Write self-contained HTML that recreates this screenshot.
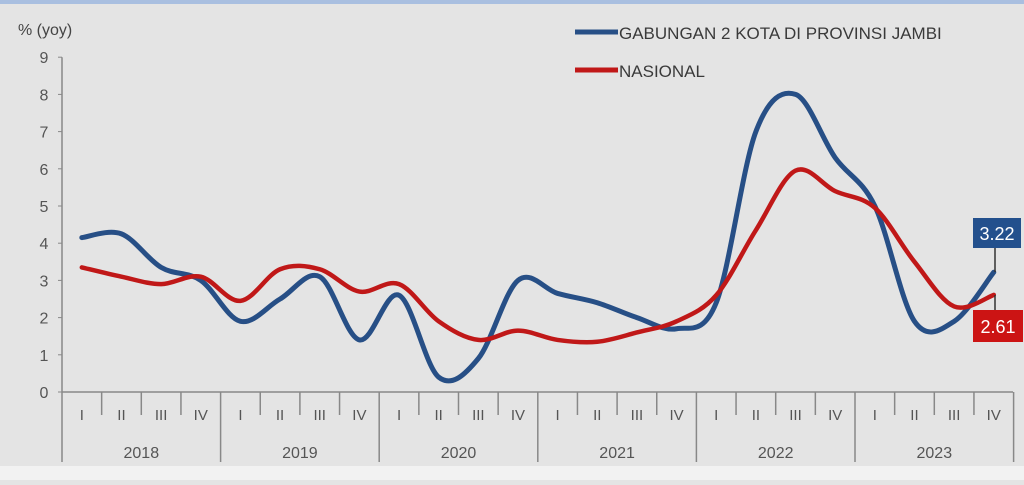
<!DOCTYPE html>
<html><head><style>
body{margin:0;width:1024px;height:480px;overflow:hidden;background:#e4e4e4;font-family:"Liberation Sans",sans-serif}
</style></head><body>
<svg id="s" width="1024" height="480" xmlns="http://www.w3.org/2000/svg">
<rect width="1024" height="480" fill="#e4e4e4"/>
<rect width="1024" height="4" fill="#a9bfe0"/>
<rect y="466" width="1024" height="14" fill="#f2f2f2"/>
<text x="18" y="35" font-size="16" fill="#444">% (yoy)</text>
<g id="g"></g>
<line x1="575" y1="32" x2="618" y2="32" stroke="#274f86" stroke-width="5"/>
<text x="619" y="39" font-size="17" fill="#3a3a3a">GABUNGAN 2 KOTA DI PROVINSI JAMBI</text>
<line x1="575" y1="70" x2="618" y2="70" stroke="#c01818" stroke-width="5"/>
<text x="619" y="77" font-size="17" fill="#3a3a3a">NASIONAL</text>
<line x1="995" y1="245" x2="995" y2="272" stroke="#333" stroke-width="1.5"/>
<rect x="973" y="218" width="48" height="30" fill="#23508d"/>
<text x="997" y="240" font-size="18" fill="#fff" text-anchor="middle">3.22</text>
<line x1="995" y1="295" x2="995" y2="312" stroke="#333" stroke-width="1.5"/>
<rect x="973" y="310" width="50" height="32" fill="#cc1414"/>
<text x="998" y="333" font-size="18" fill="#fff" text-anchor="middle">2.61</text>
</svg>
<script>
var g=document.getElementById('g'),h='';
var y0=392,u=37.2,x0=62,w=39.65;
function Y(v){return y0-v*u}function X(i){return x0+w*(i+0.5)}
for(var v=0;v<=9;v++){h+='<text x="44" y="'+(Y(v)+6)+'" font-size="16" fill="#555" text-anchor="middle">'+v+'</text><line x1="58" x2="62" y1="'+Y(v)+'" y2="'+Y(v)+'" stroke="#888"/>';}
h+='<line x1="62" y1="'+Y(9)+'" x2="62" y2="462" stroke="#888" stroke-width="1.5"/>';
h+='<line x1="62" y1="392" x2="1013" y2="392" stroke="#888" stroke-width="1.5"/>';
var q=['I','II','III','IV'];
for(var i=0;i<24;i++){h+='<text x="'+X(i)+'" y="420" font-size="15" fill="#555" text-anchor="middle">'+q[i%4]+'</text>';}
for(var k=1;k<=24;k++){var x=x0+k*w;var e=(k%4==0)?462:415;h+='<line x1="'+x+'" x2="'+x+'" y1="392" y2="'+e+'" stroke="#888" stroke-width="1.5"/>';}
for(var yr=0;yr<6;yr++){h+='<text x="'+(x0+w*(yr*4+2))+'" y="458" font-size="16" fill="#555" text-anchor="middle">'+(2018+yr)+'</text>';}
function path(d){var p=d.map(function(v,i){return[X(i),Y(v)]});var s='M'+p[0][0]+','+p[0][1];
for(var i=0;i<p.length-1;i++){var a=p[Math.max(0,i-1)],b=p[i],c=p[i+1],e=p[Math.min(p.length-1,i+2)];
s+=' C'+(b[0]+(c[0]-a[0])/6)+','+(b[1]+(c[1]-a[1])/6)+' '+(c[0]-(e[0]-b[0])/6)+','+(c[1]-(e[1]-b[1])/6)+' '+c[0]+','+c[1];}return s;}
var B=[4.15,4.25,3.35,3.0,1.9,2.5,3.1,1.4,2.6,0.4,0.9,3.0,2.65,2.4,2.0,1.7,2.4,7.0,8.0,6.3,5.0,1.9,1.9,3.22];
var R=[3.35,3.1,2.9,3.1,2.45,3.3,3.3,2.7,2.9,1.9,1.4,1.65,1.4,1.35,1.6,1.9,2.6,4.35,5.95,5.4,4.95,3.5,2.3,2.61];
h+='<path d="'+path(B)+'" fill="none" stroke="#274f86" stroke-width="5" stroke-linecap="round"/>';
h+='<path d="'+path(R)+'" fill="none" stroke="#c01818" stroke-width="4.5" stroke-linecap="round"/>';
g.innerHTML=h;
</script>
</body></html>
